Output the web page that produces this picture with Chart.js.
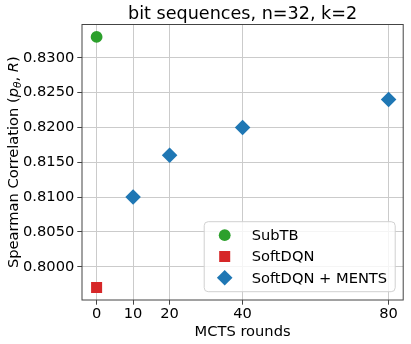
<!DOCTYPE html>
<html><head><meta charset="utf-8">
<script src="https://cdn.jsdelivr.net/npm/chart.js@4/dist/chart.umd.min.js"></script>
<style>html,body{margin:0;padding:0;background:#fff;overflow:hidden;}</style>
</head><body>
<canvas id="c" width="411" height="344" style="display:block;width:411px;height:344px"></canvas>
<script>
// ---- data ----
const titleText = 'bit sequences, n=32, k=2';
const xAxisLabel = 'MCTS rounds';
const xTickValues = [0, 10, 20, 40, 80];
const yTickValues = [0.800, 0.805, 0.810, 0.815, 0.820, 0.825, 0.830];
const seriesLabels = ['SubTB', 'SoftDQN', 'SoftDQN + MENTS'];
const subtbX = [0];
const subtbY = [0.833];
const softdqnX = [0];
const softdqnY = [0.797];
const mentsX = [10, 20, 40, 80];
const mentsY = [0.810, 0.816, 0.820, 0.824];

const FONT = '"DejaVu Sans", sans-serif';
const FS = 14.67;
const pts = (xs, ys) => xs.map((x, i) => ({ x: x, y: ys[i] }));
const styles = [
  { color: '#2ca02c', pointStyle: 'circle', radius: 5.9 },
  { color: '#d62728', pointStyle: 'rect', radius: 7.8 },
  { color: '#1f77b4', pointStyle: 'rectRot', radius: 7.8 }
];
const seriesData = [pts(subtbX, subtbY), pts(softdqnX, softdqnY), pts(mentsX, mentsY)];

const datasets = seriesLabels.map((lab, i) => ({
  label: lab,
  data: seriesData[i],
  backgroundColor: styles[i].color,
  borderColor: styles[i].color,
  borderWidth: 0,
  pointStyle: styles[i].pointStyle,
  pointRadius: styles[i].radius,
  pointHoverRadius: styles[i].radius
}));

function drawMarker(ctx, st, x, y) {
  Chart.helpers.drawPoint(ctx, { pointStyle: st.pointStyle, radius: st.radius, rotation: 0, borderWidth: 0 }, x, y);
}

const decorPlugin = {
  id: 'decor',
  afterDraw(chart) {
    const ctx = chart.ctx;
    const a = chart.chartArea;
    ctx.save();
    // frame
    ctx.strokeStyle = '#444';
    ctx.lineWidth = 1;
    ctx.strokeRect(a.left, a.top, a.right - a.left, a.bottom - a.top);
    // title
    ctx.fillStyle = '#000';
    ctx.font = '17.6px ' + FONT;
    ctx.textAlign = 'center';
    ctx.textBaseline = 'alphabetic';
    ctx.fillText(titleText, (a.left + a.right) / 2, 19);
    // x axis label
    ctx.font = FS + 'px ' + FONT;
    ctx.fillText(xAxisLabel, (a.left + a.right) / 2, 336);
    // y axis label with math
    const segs = [
      { t: 'Spearman Correlation (', f: FS + 'px ' + FONT, dy: 0 },
      { t: 'p', f: 'italic ' + FS + 'px ' + FONT, dy: 0 },
      { t: 'θ', f: 'italic 10.5px ' + FONT, dy: 3 },
      { t: ', ', f: FS + 'px ' + FONT, dy: 0 },
      { t: 'R', f: 'italic ' + FS + 'px ' + FONT, dy: 0 },
      { t: ')', f: FS + 'px ' + FONT, dy: 0 }
    ];
    let total = 0;
    segs.forEach(s => { ctx.font = s.f; s.w = ctx.measureText(s.t).width; total += s.w; });
    ctx.translate(17.5, (a.top + a.bottom) / 2);
    ctx.rotate(-Math.PI / 2);
    ctx.textAlign = 'left';
    let px = -total / 2;
    segs.forEach(s => { ctx.font = s.f; ctx.fillText(s.t, px, s.dy); px += s.w; });
    ctx.restore();

    // legend
    ctx.save();
    const lw = 191, lh = 70;
    const lx = a.right - 8 - lw, ly = a.bottom - 8.3 - lh;
    ctx.beginPath();
    if (ctx.roundRect) ctx.roundRect(lx, ly, lw, lh, 4); else ctx.rect(lx, ly, lw, lh);
    ctx.fillStyle = 'rgba(255,255,255,0.8)';
    ctx.fill();
    ctx.strokeStyle = '#d0d0d0';
    ctx.lineWidth = 1;
    ctx.stroke();
    ctx.font = FS + 'px ' + FONT;
    ctx.textAlign = 'left';
    ctx.textBaseline = 'middle';
    seriesLabels.forEach((lab, i) => {
      const yy = ly + 13.5 + i * 21.3;
      ctx.fillStyle = styles[i].color;
      drawMarker(ctx, styles[i], lx + 20.5, yy);
      ctx.fillStyle = '#000';
      ctx.fillText(lab, lx + 47.5, yy + 1);
    });
    ctx.restore();
  }
};

new Chart(document.getElementById('c'), {
  type: 'scatter',
  data: { datasets: datasets },
  plugins: [decorPlugin],
  options: {
    responsive: false,
    animation: false,
    devicePixelRatio: 1,
    events: [],
    layout: { padding: { top: 24.5, right: 5.3, left: 0, bottom: 0 } },
    plugins: { legend: { display: false }, title: { display: false }, tooltip: { enabled: false } },
    scales: {
      x: {
        type: 'linear', min: -4, max: 84,
        afterBuildTicks: s => { s.ticks = xTickValues.map(v => ({ value: v })); },
        afterFit: s => { s.height = 44; },
        ticks: { font: { family: FONT, size: FS }, color: '#000', padding: 1, maxRotation: 0, autoSkip: false,
                 callback: v => String(v) },
        grid: { color: '#cbcbcb', lineWidth: 1, tickColor: '#444', tickLength: 4.7 },
        border: { display: false }
      },
      y: {
        type: 'linear', min: 0.79522, max: 0.83478,
        afterBuildTicks: s => { s.ticks = yTickValues.map(v => ({ value: v })); },
        afterFit: s => { s.width = 82; },
        ticks: { font: { family: FONT, size: FS }, color: '#000', padding: 3, autoSkip: false,
                 callback: v => Number(v).toFixed(4) },
        grid: { color: '#cbcbcb', lineWidth: 1, tickColor: '#444', tickLength: 4.7 },
        border: { display: false }
      }
    }
  }
});
</script>
</body></html>
